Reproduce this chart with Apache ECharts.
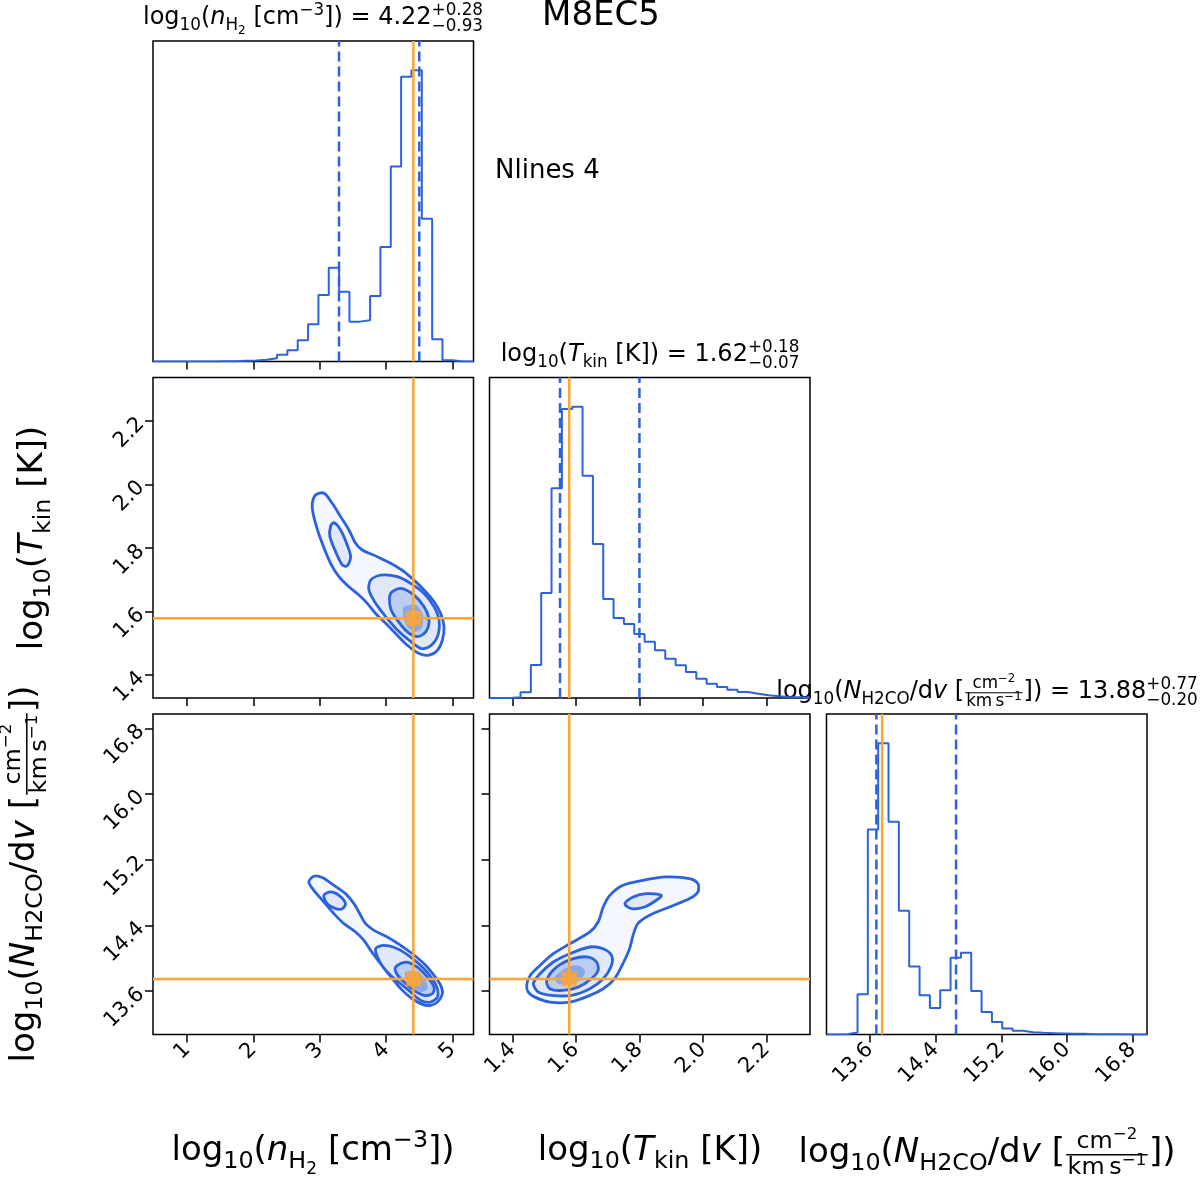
<!DOCTYPE html>
<html><head><meta charset="utf-8">
<script src="https://cdn.jsdelivr.net/npm/echarts@6/dist/echarts.min.js"></script>
<style>html,body{margin:0;padding:0;background:#fff}#c{width:1200px;height:1185px}</style>
</head><body><div id="c"></div>
<script>
// ---------------- data ----------------
const nRange = [0.487, 5.317];
const tRange = [1.328, 2.337];
const NRange = [13.073, 16.974];
const nTicks = [1, 2, 3, 4, 5];
const nTickLabels = ['1', '2', '3', '4', '5'];
const tTicks = [1.4, 1.6, 1.8, 2.0, 2.2];
const tTickLabels = ['1.4', '1.6', '1.8', '2.0', '2.2'];
const NTicks = [13.6, 14.4, 15.2, 16.0, 16.8];
const NTickLabels = ['13.6', '14.4', '15.2', '16.0', '16.8'];
// 31-bin histograms (counts)
const nHist = [0,0,0,0,0,0,1,1,2,3,5,10,20,34,64,112,200,282,210,120,124,197,345,587,857,877,430,67,4,0,0];
const tHist = [0,0,2,17,99,315,629,867,874,667,462,297,240,222,192,169,143,118,98,78,58,43,33,25,18,13,8,5,3,2,1];
const NHist = [0,1,6,121,618,878,641,373,205,118,80,133,231,246,131,68,38,18,11,7,5,4,3,2,2,1,1,1,0,0,0];
const truthN = 4.411, truthT = 1.579, truthNN = 13.75;
const qN = [3.29, 4.50];
const qT = [1.55, 1.80];
const qNN = [13.68, 14.65];
const medN = '4.22', errN = ['+0.28', '−0.93'];
const medT = '1.62', errT = ['+0.18', '−0.07'];
const medNN = '13.88', errNN = ['+0.77', '−0.20'];
// contours (x, y) in data units, levels outer -> inner
const mlL1 = [[2.936,1.967],[3.062,1.973],[3.188,1.941],[3.314,1.899],[3.440,1.857],[3.540,1.815],[3.641,1.794],[3.867,1.773],[4.068,1.752],[4.270,1.726],[4.421,1.699],[4.572,1.668],[4.723,1.631],[4.823,1.594],[4.873,1.552],[4.848,1.510],[4.773,1.478],[4.647,1.463],[4.496,1.468],[4.320,1.494],[4.144,1.531],[3.993,1.563],[3.842,1.594],[3.716,1.626],[3.590,1.652],[3.440,1.678],[3.289,1.710],[3.163,1.752],[3.037,1.815],[2.936,1.878],[2.886,1.931]];
const mlL2a = [[3.767,1.699],[3.918,1.715],[4.169,1.710],[4.370,1.689],[4.572,1.657],[4.723,1.615],[4.798,1.573],[4.773,1.521],[4.647,1.489],[4.521,1.484],[4.345,1.510],[4.169,1.542],[3.993,1.584],[3.842,1.626],[3.741,1.668]];
const mlL2b = [[3.163,1.868],[3.213,1.880],[3.314,1.857],[3.414,1.810],[3.465,1.773],[3.414,1.744],[3.339,1.747],[3.238,1.789],[3.153,1.836]];
const mlL3 = [[4.068,1.657],[4.219,1.673],[4.421,1.652],[4.572,1.615],[4.647,1.573],[4.597,1.536],[4.471,1.521],[4.320,1.536],[4.169,1.573],[4.068,1.610]];
const mlL4 = [[4.270,1.615],[4.446,1.620],[4.546,1.594],[4.546,1.552],[4.446,1.536],[4.320,1.552],[4.260,1.584]];
const blL1 = [[2.836,14.930],[2.911,14.999],[3.037,14.983],[3.213,14.889],[3.389,14.788],[3.515,14.666],[3.616,14.524],[3.691,14.422],[3.817,14.341],[4.018,14.260],[4.219,14.158],[4.395,14.056],[4.572,13.935],[4.723,13.792],[4.823,13.671],[4.848,13.569],[4.773,13.467],[4.672,13.427],[4.546,13.439],[4.395,13.508],[4.245,13.610],[4.094,13.752],[3.917,13.935],[3.767,14.097],[3.666,14.219],[3.540,14.321],[3.364,14.422],[3.213,14.544],[3.062,14.686],[2.911,14.828]];
const blL2a = [[3.842,14.117],[3.968,14.158],[4.169,14.117],[4.370,14.016],[4.546,13.894],[4.697,13.752],[4.773,13.630],[4.773,13.528],[4.672,13.467],[4.521,13.488],[4.370,13.589],[4.219,13.691],[4.043,13.813],[3.907,13.955]];
const blL2b = [[3.062,14.767],[3.163,14.808],[3.289,14.767],[3.389,14.666],[3.339,14.605],[3.238,14.605],[3.112,14.666]];
const blL3 = [[4.144,13.894],[4.295,13.955],[4.471,13.894],[4.622,13.772],[4.723,13.650],[4.697,13.569],[4.572,13.549],[4.421,13.610],[4.270,13.711],[4.159,13.813]];
const blL4 = [[4.295,13.833],[4.471,13.833],[4.597,13.731],[4.622,13.630],[4.521,13.589],[4.370,13.650],[4.295,13.752]];
const bmL1 = [[1.445,13.671],[1.456,13.792],[1.487,13.914],[1.529,14.056],[1.581,14.178],[1.644,14.321],[1.670,14.442],[1.686,14.625],[1.707,14.767],[1.748,14.889],[1.811,14.950],[1.884,14.991],[1.958,14.971],[1.984,14.910],[1.984,14.808],[1.958,14.727],[1.895,14.625],[1.832,14.524],[1.795,14.422],[1.780,14.280],[1.769,14.117],[1.748,13.935],[1.722,13.752],[1.686,13.630],[1.644,13.549],[1.581,13.468],[1.518,13.468],[1.471,13.528],[1.450,13.589]];
const bmL2a = [[1.466,13.691],[1.487,13.813],[1.529,13.955],[1.581,14.056],[1.644,14.138],[1.686,14.117],[1.712,14.036],[1.712,13.914],[1.686,13.752],[1.644,13.630],[1.586,13.549],[1.524,13.549],[1.482,13.589]];
const bmL2b = [[1.754,14.666],[1.780,14.747],[1.822,14.788],[1.869,14.767],[1.853,14.707],[1.816,14.625],[1.775,14.605]];
const bmL3 = [[1.508,13.732],[1.539,13.894],[1.592,13.996],[1.639,14.016],[1.665,13.955],[1.670,13.853],[1.649,13.752],[1.607,13.650],[1.560,13.610],[1.518,13.630]];
const bmL4 = [[1.534,13.772],[1.565,13.874],[1.607,13.914],[1.628,13.853],[1.618,13.752],[1.581,13.691],[1.544,13.691]];
const plotTitle = 'M8EC5';
const nlinesText = 'Nlines 4';

// ---------------- style ----------------
const FAM = 'DejaVu Sans';
const BLUE = '#2c62dc', ORANGE = '#fca533';
const FILLS = ['#f4f7fd', '#e0e8f9', '#e0e8f9', '#bccdf2', '#8aa7ea'];
const cols = [153, 489.5, 826.5], rows = [41, 377.5, 714], SZ = 320.5;
const cells = [[0,0],[0,1],[1,1],[0,2],[1,2],[2,2]];

const grid = cells.map(([c, r]) => ({left: cols[c], top: rows[r], width: SZ, height: SZ, show: true,
  borderColor: '#000', borderWidth: 1.5, backgroundColor: 'rgba(0,0,0,0)'}));

function axis(gi, range, ticks, labels, showTick, showLab) {
  return {type: 'value', gridIndex: gi, min: range[0], max: range[1],
    splitLine: {show: false}, axisLine: {show: false},
    axisTick: {show: showTick, customValues: ticks, length: 8, lineStyle: {color: '#000', width: 1.5}},
    axisLabel: {show: showLab, customValues: ticks, rotate: 45, fontSize: 21, fontFamily: FAM, color: '#000', margin: 12,
      formatter: v => { const i = ticks.findIndex(t => Math.abs(t - v) < 1e-6); return i >= 0 ? labels[i] : ''; }}};
}
function histAxis(gi, counts) {
  return {type: 'value', gridIndex: gi, min: 0, max: 1.1 * Math.max(...counts), show: false, splitLine: {show: false}};
}
const xAxis = [
  axis(0, nRange, nTicks, nTickLabels, true, false),
  axis(1, nRange, nTicks, nTickLabels, true, false),
  axis(2, tRange, tTicks, tTickLabels, true, false),
  axis(3, nRange, nTicks, nTickLabels, true, true),
  axis(4, tRange, tTicks, tTickLabels, true, true),
  axis(5, NRange, NTicks, NTickLabels, true, true)
];
const yAxis = [
  histAxis(0, nHist),
  axis(1, tRange, tTicks, tTickLabels, true, true),
  histAxis(2, tHist),
  axis(3, NRange, NTicks, NTickLabels, true, true),
  axis(4, NRange, NTicks, NTickLabels, true, false),
  histAxis(5, NHist)
];

function histSeries(gi, range, counts) {
  const w = (range[1] - range[0]) / counts.length;
  const pts = [[range[0], 0]];
  counts.forEach((c, k) => pts.push([range[0] + k * w, c]));
  pts.push([range[1], counts[counts.length - 1]]);
  pts.push([range[1], 0]);
  return {type: 'line', xAxisIndex: gi, yAxisIndex: gi, data: pts, step: 'end', symbol: 'none',
    lineStyle: {color: BLUE, width: 2}, silent: true, z: 2};
}
function seg(gi, a, b, color, dashed) {
  return {type: 'line', xAxisIndex: gi, yAxisIndex: gi, data: [a, b], symbol: 'none',
    lineStyle: {color: color, width: 2.5, type: dashed ? [10, 5] : 'solid'}, silent: true, z: dashed ? 3 : 4};
}
function contour(gi, polys) {
  return {type: 'custom', xAxisIndex: gi, yAxisIndex: gi, coordinateSystem: 'cartesian2d',
    data: polys.map((p, i) => [p.pts[0][0], p.pts[0][1], i]),
    renderItem: (params, api) => {
      const p = polys[api.value(2)];
      return {type: 'polygon', shape: {points: p.pts.map(v => api.coord(v)), smooth: 0.3},
        style: {fill: p.fill, stroke: p.stroke ? BLUE : null, lineWidth: 2.8}};
    }, silent: true, z: 2};
}
function levels(L1, L2a, L2b, L3, L4) {
  return [{pts: L1, fill: FILLS[0], stroke: true}, {pts: L2a, fill: FILLS[1], stroke: true},
    {pts: L2b, fill: FILLS[2], stroke: true}, {pts: L3, fill: FILLS[3], stroke: true}, {pts: L4, fill: FILLS[4], stroke: false}];
}
function square(gi, x, y) {
  return {type: 'scatter', xAxisIndex: gi, yAxisIndex: gi, data: [[x, y]], symbol: 'rect', symbolSize: 15,
    itemStyle: {color: ORANGE}, silent: true, z: 6};
}

const nMax = 1.1 * Math.max(...nHist), tMax = 1.1 * Math.max(...tHist), NMax = 1.1 * Math.max(...NHist);
const series = [
  histSeries(0, nRange, nHist),
  seg(0, [qN[0], 0], [qN[0], nMax], BLUE, true), seg(0, [qN[1], 0], [qN[1], nMax], BLUE, true),
  seg(0, [truthN, 0], [truthN, nMax], ORANGE, false),
  histSeries(2, tRange, tHist),
  seg(2, [qT[0], 0], [qT[0], tMax], BLUE, true), seg(2, [qT[1], 0], [qT[1], tMax], BLUE, true),
  seg(2, [truthT, 0], [truthT, tMax], ORANGE, false),
  histSeries(5, NRange, NHist),
  seg(5, [qNN[0], 0], [qNN[0], NMax], BLUE, true), seg(5, [qNN[1], 0], [qNN[1], NMax], BLUE, true),
  seg(5, [truthNN, 0], [truthNN, NMax], ORANGE, false),
  contour(1, levels(mlL1, mlL2a, mlL2b, mlL3, mlL4)),
  seg(1, [truthN, tRange[0]], [truthN, tRange[1]], ORANGE, false),
  seg(1, [nRange[0], truthT], [nRange[1], truthT], ORANGE, false),
  square(1, truthN, truthT),
  contour(3, levels(blL1, blL2a, blL2b, blL3, blL4)),
  seg(3, [truthN, NRange[0]], [truthN, NRange[1]], ORANGE, false),
  seg(3, [nRange[0], truthNN], [nRange[1], truthNN], ORANGE, false),
  square(3, truthN, truthNN),
  contour(4, levels(bmL1, bmL2a, bmL2b, bmL3, bmL4)),
  seg(4, [truthT, NRange[0]], [truthT, NRange[1]], ORANGE, false),
  seg(4, [tRange[0], truthNN], [tRange[1], truthNN], ORANGE, false),
  square(4, truthT, truthNN)
];

// ---------------- math-style labels ----------------
const mctx = document.createElement('canvas').getContext('2d');
function tw(t, s, it) { mctx.font = (it ? 'italic ' : '') + s + 'px "' + FAM + '"'; return mctx.measureText(t).width; }
function lay(tokens, F) {
  const items = [], lines = []; let x = 0;
  tokens.forEach(tk => {
    if (tk.frac) {
      const s = F * 0.7;
      const a = lay(tk.frac[0], s), b = lay(tk.frac[1], s);
      const pad = F * 0.08, w = Math.max(a.width, b.width) + 2 * pad, by = -0.3 * F;
      a.items.forEach(it => items.push(Object.assign({}, it, {x: it.x + x + (w - a.width) / 2, y: it.y + by - 0.13 * F})));
      b.items.forEach(it => items.push(Object.assign({}, it, {x: it.x + x + (w - b.width) / 2, y: it.y + by + 0.1 * F + 0.76 * s})));
      lines.push({x1: x + pad * 0.5, x2: x + w - pad * 0.5, y: by});
      x += w; return;
    }
    if (tk.stack) {
      const s = F * 0.7;
      items.push({t: tk.stack[0], x: x, y: -0.38 * F, s: s});
      items.push({t: tk.stack[1], x: x, y: 0.26 * F, s: s});
      x += Math.max(tw(tk.stack[0], s), tw(tk.stack[1], s)); return;
    }
    let s = F, dy = 0;
    if (tk.sub === 1) { s = F * 0.7; dy = 0.22 * F; }
    else if (tk.sub === 2) { s = F * 0.5; dy = 0.38 * F; }
    else if (tk.sup) { s = F * 0.7; dy = -0.4 * F; }
    items.push({t: tk.t, x: x, y: dy, s: s, it: !!tk.it});
    x += tw(tk.t, s, tk.it);
  });
  return {items, lines, width: x};
}
function mathText(tokens, F, cx, by, rot, anchor) {
  const L = lay(tokens, F);
  const x0 = anchor === 'left' ? 0 : -L.width / 2;
  const children = L.items.map(it => ({type: 'text', x: x0 + it.x, y: it.y - 0.35 * it.s,
    style: {text: it.t, fontSize: it.s, fontFamily: FAM, fontStyle: it.it ? 'italic' : 'normal', fill: '#000',
      align: 'left', verticalAlign: 'middle'}}));
  L.lines.forEach(l => children.push({type: 'line', shape: {x1: x0 + l.x1, y1: l.y, x2: x0 + l.x2, y2: l.y},
    style: {stroke: '#000', lineWidth: Math.max(1, F * 0.045)}}));
  return {type: 'group', x: cx, y: by, rotation: rot || 0, children: children, silent: true};
}
const nLab = [{t: 'log'}, {t: '10', sub: 1}, {t: '('}, {t: 'n', it: 1}, {t: 'H', sub: 1}, {t: '2', sub: 2}, {t: ' ['}, {t: 'cm'}, {t: '−3', sup: 1}, {t: '])'}];
const tLab = [{t: 'log'}, {t: '10', sub: 1}, {t: '('}, {t: 'T', it: 1}, {t: 'kin', sub: 1}, {t: ' [K])'}];
const NLab = [{t: 'log'}, {t: '10', sub: 1}, {t: '('}, {t: 'N', it: 1}, {t: 'H2CO', sub: 1}, {t: '/d'}, {t: 'v', it: 1}, {t: ' ['},
  {frac: [[{t: 'cm'}, {t: '−2', sup: 1}], [{t: 'km\u2009s'}, {t: '−1', sup: 1}]]}, {t: '])'}];
function withVal(lab, med, err) { return lab.concat([{t: ' = ' + med}, {stack: err}]); }

const LF = 34, TF = 24;
const graphic = [
  mathText(withVal(nLab, medN, errN), TF, 313, 26),
  mathText(withVal(tLab, medT, errT), TF, 650, 363),
  mathText(withVal(NLab, medNN, errNN), TF, 987, 700),
  mathText(nLab, LF, 313, 1163),
  mathText(tLab, LF, 650, 1163),
  mathText(NLab, LF, 987, 1165),
  mathText(tLab, LF, 45, 538, Math.PI / 2),
  mathText(NLab, LF, 37, 874, Math.PI / 2),
  {type: 'text', x: 601, y: 28 - 0.35 * 34, style: {text: plotTitle, fontSize: 34, fontFamily: FAM, fill: '#000', align: 'center', verticalAlign: 'middle'}},
  {type: 'text', x: 495, y: 180 - 0.35 * 26, style: {text: nlinesText, fontSize: 26, fontFamily: FAM, fill: '#000', align: 'left', verticalAlign: 'middle'}}
];

const chart = echarts.init(document.getElementById('c'), null, {renderer: 'canvas'});
chart.setOption({animation: false, backgroundColor: '#fff', grid, xAxis, yAxis, series, graphic});
</script>
</body></html>
